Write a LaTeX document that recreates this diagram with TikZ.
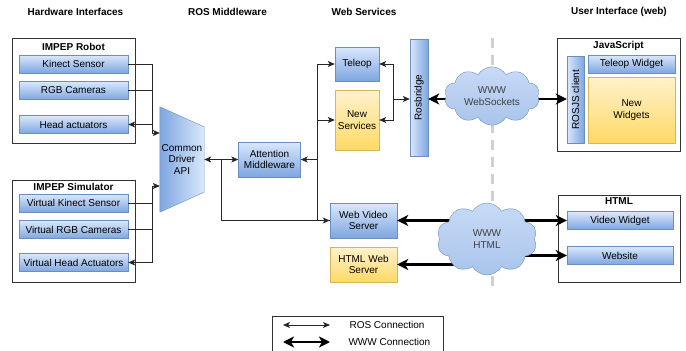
\documentclass[tikz,border=0pt]{standalone}
\usepackage{fontspec}
\setmainfont{Liberation Sans}
\usepackage{graphicx}
\usetikzlibrary{positioning,calc,arrows.meta,shapes.symbols}

\definecolor{bluetop}{HTML}{DAE8FC}
\definecolor{bluebot}{HTML}{7EA6E0}
\definecolor{bluecloud}{HTML}{A9C4EB}
\definecolor{blueline}{HTML}{6C8EBF}
\definecolor{yeltop}{HTML}{FFF2CC}
\definecolor{yelbot}{HTML}{FFD966}
\definecolor{yelline}{HTML}{D6B656}
\definecolor{sepgray}{HTML}{D0D0D0}

\newcommand\dgfont{\fontsize{10}{11.5}\selectfont}

\tikzset{
  bluebox/.style={draw=blueline, top color=bluetop, bottom color=bluebot,
                  inner sep=0pt, align=center, font=\dgfont},
  bluebar/.style={draw=blueline, left color=bluetop, right color=bluebot,
                  inner sep=0pt, align=center, font=\dgfont},
  yelbox/.style={draw=yelline, top color=yeltop, bottom color=yelbot,
                 inner sep=0pt, align=center, font=\dgfont},
  groupbox/.style={draw=black!80, fill=white, line width=0.8pt, inner sep=0pt},
  header/.style={font=\dgfont\bfseries},
  wwwcloud/.style={cloud, cloud puffs=10, cloud puff arc=120, aspect=1.7,
                   draw=blueline, top color=bluetop!80!bluebot, bottom color=bluecloud,
                   inner sep=0pt, align=center, font=\dgfont, text=black!75},
  rostip/.tip={Stealth[length=7pt,width=6pt,inset=1.8pt]},
  wwwtip/.tip={Stealth[length=11pt,width=11pt,inset=3pt]},
  ros/.style={line width=0.8pt, draw=black!85},
  www/.style={line width=2.6pt, draw=black, wwwtip-wwwtip},
}

\begin{document}
\begin{tikzpicture}[x=1pt,y=-1pt]
\useasboundingbox (0,0) rectangle (686,351);

% column headers
\node[header] (hhw) at (75.5,12) {Hardware Interfaces};
\node[header] (hros) at (227.5,12) {ROS Middleware};
\node[header] (hweb) at (364,12) {Web Services};
\node[header] (hui) at (619,12) {User Interface (web)};

% hardware
\node[groupbox, minimum width=123, minimum height=105] (robot) at (73.5,90.5) {};
\node[header] at (73.5,46.5) {IMPEP Robot};
\node[bluebox, minimum width=109, minimum height=18] (kinect) at (73.5,64) {Kinect Sensor};
\node[bluebox, minimum width=109, minimum height=18] (rgbcam) at (73.5,90.5) {RGB Cameras};
\node[bluebox, minimum width=109, minimum height=18] (headact) at (73.5,124.5) {Head actuators};

\node[groupbox, minimum width=123, minimum height=102] (sim) at (73.5,231) {};
\node[header] at (73.5,187) {IMPEP Simulator};
\node[bluebox, minimum width=109, minimum height=18] (vkinect) at (73.5,203) {Virtual Kinect Sensor};
\node[bluebox, minimum width=109, minimum height=18] (vrgbcam) at (73.5,229.5) {Virtual RGB Cameras};
\node[bluebox, minimum width=109, minimum height=18] (vheadact) at (73.5,262.5) {Virtual Head Actuators};

% ROS middleware
\node[minimum width=44, minimum height=105, inner sep=0pt] (api) at (182,159.5) {};
\shade[draw=blueline, left color=bluebot, right color=bluetop]
  (api.north west) -- ([yshift=-20pt]api.north east) -- ([yshift=20pt]api.south east)
  -- (api.south west) -- cycle;
\node[font=\dgfont, align=center] at (api) {Common\\Driver\\API};
\node[bluebox, minimum width=62, minimum height=35] (attn) at (269.5,159.5) {Attention\\Middleware};

% web services
\node[bluebox, minimum width=44, minimum height=34] (teleop) at (357,64) {Teleop};
\node[yelbox, minimum width=44, minimum height=60] (newsrv) at (357,120) {New\\Services};
\node[bluebar, minimum width=18, minimum height=117] (rosbridge) at (419,97.5) {\rotatebox{90}{Rosbridge}};
\node[bluebox, minimum width=67, minimum height=35] (wvs) at (363.5,220.5) {Web Video\\Server};
\node[yelbox, minimum width=67, minimum height=35] (hws) at (363.5,264.5) {HTML Web\\Server};

% user interface
\node[groupbox, minimum width=123, minimum height=113] (jsbox) at (618.5,94.5) {};
\node[header] at (618.5,45.5) {JavaScript};
\node[bluebar, minimum width=17, minimum height=87] (rosjs) at (575.5,99.5) {\rotatebox{90}{ROSJS client}};
\node[bluebox, minimum width=87, minimum height=18] (teleopw) at (631.5,64) {Teleop Widget};
\node[yelbox, minimum width=87, minimum height=66] (newwid) at (631.5,110) {New\\Widgets};

\node[groupbox, minimum width=122, minimum height=87] (htmlbox) at (619,238.5) {};
\node[header] at (619,201.5) {HTML};
\node[bluebox, minimum width=106, minimum height=18] (videow) at (620,220.5) {Video Widget};
\node[bluebox, minimum width=106, minimum height=18] (website) at (620,255.5) {Website};

% ROS connections
\coordinate (hubA) at (152,133);
\coordinate (hubB) at (152,186);
\draw[ros] (kinect.east) -| (hubA);
\draw[ros] (rgbcam.east) -| (hubA);
\draw[ros,-rostip] (hubA) |- (headact.east);
\draw[ros,-rostip] (hubA) -- (hubA -| api.west);
\draw[ros] (vkinect.east) -| (hubB);
\draw[ros] (vrgbcam.east) -| (hubB);
\draw[ros,-rostip] (hubB) |- (vheadact.east);
\draw[ros,-rostip] (hubB) -- (hubB -| api.west);

\draw[ros,rostip-rostip] (api.east) -- (attn.west);
\coordinate (tap) at (221,159.5);
\draw[ros,-rostip] (tap) |- (wvs.west);
\coordinate (hubW) at (317,159.5);
\draw[ros,-rostip] (hubW) -- (attn.east);
\draw[ros,-rostip] (hubW) |- (teleop.west);
\draw[ros,-rostip] (hubW) |- (newsrv.west);
\draw[ros] (hubW) |- (wvs.west);
\coordinate (hubR) at (393,99);
\draw[ros,-rostip] (hubR) -- (hubR -| rosbridge.west);
\draw[ros,-rostip] (hubR) |- (teleop.east);
\draw[ros,-rostip] (hubR) |- (newsrv.east);

% separator
\coordinate (sepT) at (492,38);
\coordinate (sepB) at (492,292);
\draw[sepgray, line width=3pt, dash pattern=on 10pt off 7pt] (sepT) -- (sepB);

% WWW connections
\draw[www] (rosbridge.east |- hubR) -- (rosjs.west |- hubR);
\draw[www] (wvs.east) -- (videow.west);
\draw[www] (hws.east) -- ++(85,0) |- (website.west);
\node[wwwcloud, minimum width=95, minimum height=56] (wscloud) at (492,96) {WWW\\WebSockets};
\node[wwwcloud, minimum width=100, minimum height=72] (htmlcloud) at (487,239) {WWW\\HTML};

% legend
\node[groupbox, line width=0.6pt, minimum width=171, minimum height=46] (legend) at (357.5,339) {};
\coordinate (l1a) at (283,325);
\coordinate (l1b) at (330,325);
\coordinate (l2a) at (283,342);
\coordinate (l2b) at (330,342);
\draw[ros,rostip-rostip] (l1a) -- (l1b);
\draw[www] (l2a) -- (l2b);
\node[font=\dgfont, anchor=west] (rosl) at (346,325) {ROS Connection};
\node[font=\dgfont, anchor=west] (wwwl) at (345,342) {WWW Connection};
\end{tikzpicture}
\end{document}
